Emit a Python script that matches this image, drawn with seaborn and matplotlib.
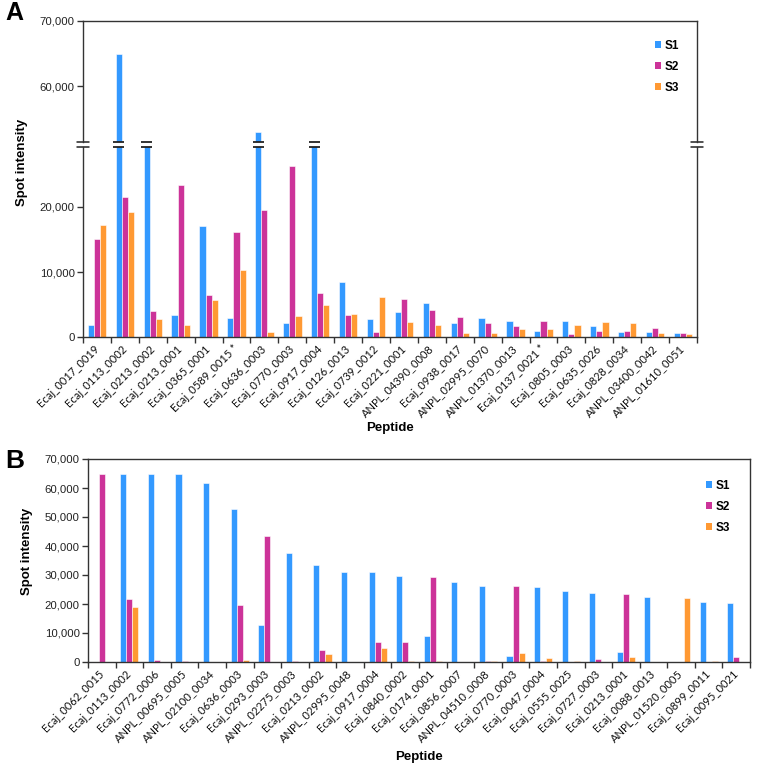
import matplotlib
matplotlib.use('Agg')
import matplotlib.pyplot as plt
import numpy as np
import pandas as pd
import seaborn as sns
from matplotlib.patches import Patch

# ---- data -------------------------------------------------------------
samples = ['S1', 'S2', 'S3']
colors = ['#3399ff', '#cc3399', '#ff9933']

peptides_a = ['Ecaj_0017_0019', 'Ecaj_0113_0002', 'Ecaj_0213_0002', 'Ecaj_0213_0001',
              'Ecaj_0365_0001', 'Ecaj_0589_0015 *', 'Ecaj_0636_0003', 'Ecaj_0770_0003',
              'Ecaj_0917_0004', 'Ecaj_0126_0013', 'Ecaj_0739_0012', 'Ecaj_0221_0001',
              'ANPL_04390_0008', 'Ecaj_0938_0017', 'ANPL_02995_0070', 'ANPL_01370_0013',
              'Ecaj_0137_0021 *', 'Ecaj_0805_0003', 'Ecaj_0635_0026', 'Ecaj_0828_0034',
              'ANPL_03400_0042', 'ANPL_01610_0051']
s1_a = [1900, 65000, 33500, 3400, 17100, 2900, 53000, 2100, 31000, 8500, 2800, 3900,
        5200, 2100, 2900, 2500, 1000, 2400, 1700, 800, 700, 600]
s2_a = [15100, 21600, 4000, 23400, 6500, 16200, 19500, 26300, 6800, 3400, 800, 5800,
        4200, 3100, 2200, 1700, 2400, 500, 1000, 1000, 1400, 600]
s3_a = [17300, 19200, 2700, 1800, 5700, 10300, 800, 3200, 4900, 3600, 6100, 2300,
        1900, 600, 600, 1200, 1300, 1900, 2300, 2100, 600, 500]

peptides_b = ['Ecaj_0062_0015', 'Ecaj_0113_0002', 'Ecaj_0772_0006', 'ANPL_00695_0005',
              'ANPL_02100_0034', 'Ecaj_0636_0003', 'Ecaj_0293_0003', 'ANPL_02275_0003',
              'Ecaj_0213_0002', 'ANPL_02995_0048', 'Ecaj_0917_0004', 'Ecaj_0840_0002',
              'Ecaj_0174_0001', 'Ecaj_0856_0007', 'ANPL_04510_0008', 'Ecaj_0770_0003',
              'Ecaj_0047_0004', 'Ecaj_0555_0025', 'Ecaj_0727_0003', 'Ecaj_0213_0001',
              'Ecaj_0088_0013', 'ANPL_01520_0005', 'Ecaj_0899_0011', 'Ecaj_0095_0021']
s1_b = [0, 65000, 65000, 65000, 61700, 52800, 12700, 37500, 33500, 31200, 31000, 29600,
        9100, 27700, 26200, 2100, 25900, 24600, 23800, 3500, 22500, 0, 20600, 20400]
s2_b = [65000, 21600, 800, 200, 0, 19600, 43400, 300, 4000, 0, 6900, 6900,
        29200, 0, 200, 26100, 300, 0, 1200, 23400, 0, 0, 0, 1800]
s3_b = [0, 19100, 0, 0, 0, 800, 0, 0, 2800, 0, 4900, 200,
        300, 0, 200, 3200, 1400, 500, 0, 1800, 0, 21900, 200, 0]

W, H = 757, 766


def fy(px):
    return 1 - px / H


def long_frame(peptides, s1, s2, s3):
    df = pd.DataFrame({'Peptide': peptides, 'S1': s1, 'S2': s2, 'S3': s3})
    return df.melt(id_vars='Peptide', var_name='Sample', value_name='Intensity')


def draw_bars(ax, df, order):
    sns.barplot(data=df, x='Peptide', y='Intensity', hue='Sample', order=order,
                hue_order=samples, palette=colors, saturation=1, width=0.66,
                edgecolor='white', linewidth=0.4, errorbar=None, legend=False, ax=ax)
    ax.set_xlim(-0.5, len(order) - 0.5)
    ax.set_xlabel('')
    ax.set_ylabel('')
    for s in ax.spines.values():
        s.set_color('#333333')
        s.set_linewidth(1.0)
    ax.tick_params(axis='y', direction='out', length=4, width=1, color='#333333',
                   labelsize=8.2, pad=2, labelcolor='#222222')


def set_xlabels(ax, order):
    n = len(order)
    ax.set_xticks(range(n))
    ax.set_xticklabels(order, rotation=45, ha='right', va='center',
                       rotation_mode='anchor', fontfamily='Lato', fontsize=8)
    ax.set_xticks(np.arange(n + 1) - 0.5, minor=True)
    ax.tick_params(axis='x', which='major', length=0, pad=7, labelcolor='#111111')
    ax.tick_params(axis='x', which='minor', direction='out', length=4, width=1,
                   color='#333333')


def add_legend(ax, x, y, fig):
    handles = [Patch(facecolor=c, edgecolor='none') for c in colors]
    leg = ax.legend(handles, samples, loc='upper left', bbox_to_anchor=(x, y),
                    bbox_transform=fig.transFigure, frameon=False, handlelength=0.55,
                    handleheight=0.55, handletextpad=0.3, labelspacing=0.75,
                    borderpad=0, borderaxespad=0, prop={'weight': 'bold', 'size': 8.5})
    for t in leg.get_texts():
        t.set_color('black')


sns.set_theme(style='ticks')
plt.rcParams['font.family'] = ['Liberation Sans', 'DejaVu Sans']
plt.rcParams['text.color'] = 'black'

fig = plt.figure(figsize=(W / 100, H / 100), dpi=100)

# ---- panel A (broken y axis) -----------------------------------------
df_a = long_frame(peptides_a, s1_a, s2_a, s3_a)
low_top, up_bot = 147, 142
ax_lo = fig.add_axes([83 / W, fy(337), 614 / W, (337 - low_top) / H])
ax_up = fig.add_axes([83 / W, fy(up_bot), 614 / W, (up_bot - 21) / H])

draw_bars(ax_lo, df_a, peptides_a)
draw_bars(ax_up, df_a, peptides_a)

lo_max = 10000 * (337 - low_top) / 65
up_min = 70000 - 10000 * (up_bot - 21) / 65
ax_lo.set_ylim(0, lo_max)
ax_up.set_ylim(up_min, 70000)
ax_lo.set_yticks([0, 10000, 20000])
ax_lo.set_yticklabels(['0', '10,000', '20,000'])
ax_up.set_yticks([60000, 70000])
ax_up.set_yticklabels(['60,000', '70,000'])
ax_lo.spines['top'].set_visible(False)
ax_up.spines['bottom'].set_visible(False)
ax_up.set_xticks([])
set_xlabels(ax_lo, peptides_a)

# break marks on the spines
for xs in (0, 1):
    ax_lo.plot([xs - 0.01, xs + 0.01], [1, 1], transform=ax_lo.transAxes,
               color='#222222', lw=1.1, clip_on=False)
    ax_up.plot([xs - 0.01, xs + 0.01], [0, 0], transform=ax_up.transAxes,
               color='#222222', lw=1.1, clip_on=False)

# break marks on the truncated bars
for p in ax_lo.patches:
    if p.get_height() > lo_max:
        x0 = p.get_x() - 0.09
        x1 = p.get_x() + p.get_width() + 0.09
        ax_lo.plot([x0, x1], [1, 1], transform=ax_lo.get_xaxis_transform(),
                   color='#222222', lw=1.3, clip_on=False, solid_capstyle='butt')
        ax_up.plot([x0, x1], [0, 0], transform=ax_up.get_xaxis_transform(),
                   color='#222222', lw=1.3, clip_on=False, solid_capstyle='butt')

add_legend(ax_up, 655 / W, fy(40), fig)

fig.text(5 / W, fy(20), 'A', fontsize=18, fontweight='bold', va='baseline')
fig.text(22 / W, fy(162), 'Spot intensity', rotation=90, ha='center', va='center',
         fontsize=9.5, fontweight='bold')
fig.text(390 / W, fy(428), 'Peptide', ha='center', va='center',
         fontsize=9.5, fontweight='bold')

# ---- panel B ----------------------------------------------------------
df_b = long_frame(peptides_b, s1_b, s2_b, s3_b)
ax_b = fig.add_axes([88 / W, fy(662), 662 / W, 203 / H])
draw_bars(ax_b, df_b, peptides_b)
ax_b.set_ylim(0, 70000)
yt = np.arange(0, 70001, 10000)
ax_b.set_yticks(yt)
ax_b.set_yticklabels([f'{v:,}' for v in yt])
set_xlabels(ax_b, peptides_b)
add_legend(ax_b, 706 / W, fy(480), fig)

fig.text(5 / W, fy(468), 'B', fontsize=19, fontweight='bold', va='baseline')
fig.text(27 / W, fy(551), 'Spot intensity', rotation=90, ha='center', va='center',
         fontsize=9.5, fontweight='bold')
fig.text(419 / W, fy(757), 'Peptide', ha='center', va='center',
         fontsize=9.5, fontweight='bold')

fig.savefig('out.png', dpi=100)
